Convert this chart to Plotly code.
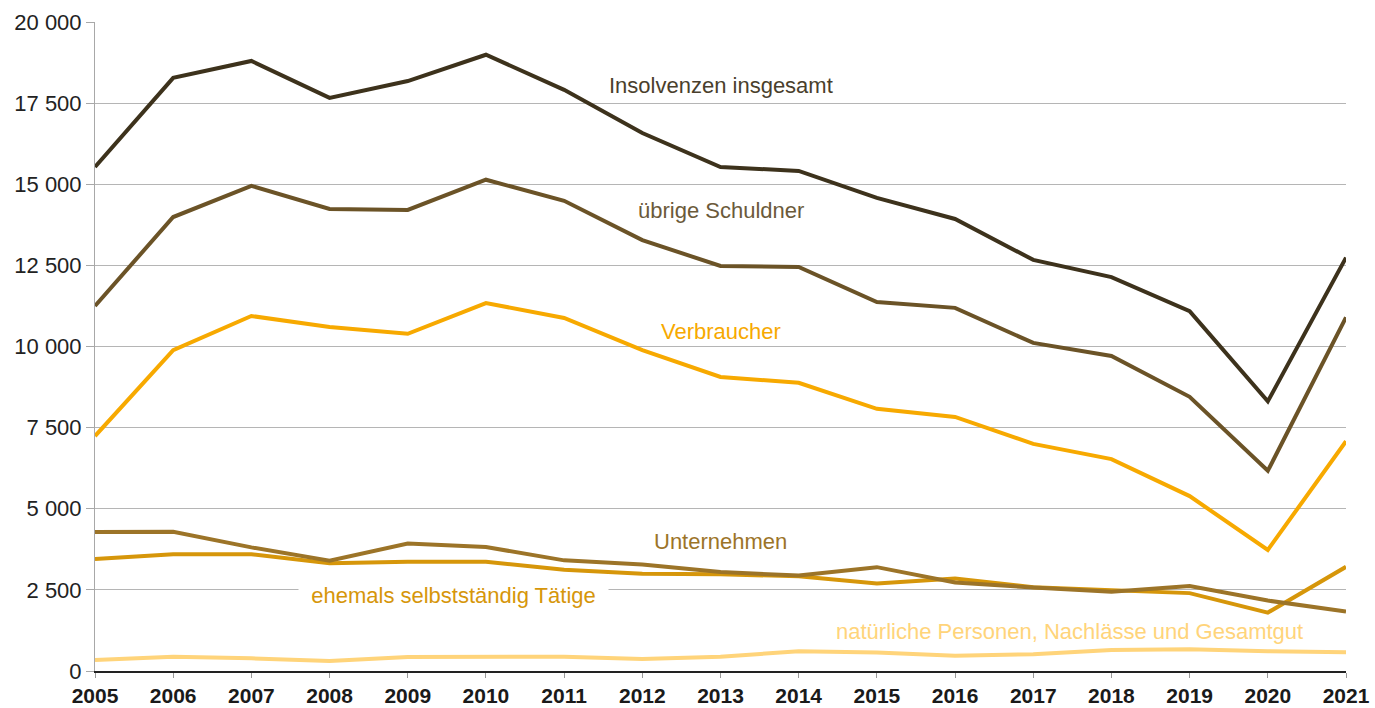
import plotly.graph_objects as go

years = list(range(2005, 2022))

insgesamt = [15530, 18280, 18800, 17660, 18180, 18990, 17910, 16580, 15530, 15410, 14580, 13930, 12670, 12140, 11090, 8310, 12740]
uebrige = [11250, 13990, 14950, 14240, 14210, 15140, 14490, 13280, 12480, 12450, 11370, 11190, 10110, 9710, 8450, 6170, 10900]
verbraucher = [7240, 9890, 10940, 10600, 10390, 11340, 10880, 9890, 9060, 8880, 8080, 7830, 7000, 6530, 5390, 3730, 7080]
unternehmen = [4280, 4290, 3810, 3400, 3930, 3820, 3410, 3280, 3050, 2940, 3200, 2730, 2570, 2440, 2620, 2170, 1830]
ehemals = [3450, 3600, 3600, 3320, 3370, 3370, 3120, 3000, 2980, 2920, 2700, 2850, 2580, 2480, 2400, 1800, 3210]
natuerlich = [340, 440, 390, 310, 430, 420, 440, 370, 440, 610, 570, 470, 520, 650, 670, 610, 580]

series = [
    ("natürliche Personen, Nachlässe und Gesamtgut", natuerlich, "#ffd47a"),
    ("ehemals selbstständig Tätige", ehemals, "#d6960a"),
    ("Unternehmen", unternehmen, "#9c7428"),
    ("Verbraucher", verbraucher, "#f7a900"),
    ("übrige Schuldner", uebrige, "#6b5327"),
    ("Insolvenzen insgesamt", insgesamt, "#3d321c"),
]

labels = [
    ("Insolvenzen insgesamt", 2013.0, 18030, "#4a3f2c", None),
    ("übrige Schuldner", 2013.0, 14180, "#6b5a3a", None),
    ("Verbraucher", 2013.0, 10450, "#f7a900", None),
    ("Unternehmen", 2013.0, 3980, "#9c7428", None),
    ("\u00a0\u00a0ehemals selbstständig Tätige\u00a0\u00a0", 2009.59, 2340, "#d6960a", "white"),
    ("natürliche Personen, Nachlässe und Gesamtgut", 2017.46, 1230, "#ffd47a", None),
]

fig = go.Figure()
for name, vals, col in series:
    fig.add_trace(go.Scatter(x=years, y=vals, mode="lines", name=name,
                             line=dict(color=col, width=4), hoverinfo="skip"))

for txt, x, y, col, bg in labels:
    fig.add_annotation(x=x, y=y, text=txt, showarrow=False,
                       font=dict(family="Liberation Sans", size=22, color=col),
                       bgcolor=bg, borderpad=0, xanchor="center", yanchor="middle")

fig.update_layout(
    width=1375, height=708,
    margin=dict(l=95, r=29, t=22, b=37, autoexpand=False),
    plot_bgcolor="white", paper_bgcolor="white",
    showlegend=False,
    separators=", ",
)
fig.update_xaxes(
    range=[2005, 2021], tickmode="array", tickvals=years,
    ticktext=[str(y) for y in years],
    showgrid=False, zeroline=False, automargin=False,
    ticklabeloverflow="allow",
    showline=True, linecolor="#222222", linewidth=2,
    ticks="outside", ticklen=5, tickcolor="#999999", tickwidth=1,
    tickfont=dict(family="Liberation Sans", size=21, color="#1a1a1a", weight="bold"),
)
fig.update_yaxes(
    range=[0, 20000], dtick=2500, tickformat=",d",
    showgrid=True, gridcolor="#b5b5b5", gridwidth=1,
    zeroline=False, automargin=False,
    ticklabeloverflow="allow",
    showline=True, linecolor="#a8a8a8", linewidth=1,
    ticks="outside", ticklen=8, tickcolor="#a8a8a8", tickwidth=1,
    tickfont=dict(family="Liberation Sans", size=22, color="#222222"),
)

fig.write_html(
    "out.html",
    config={"displayModeBar": False},
    post_script="document.body.style.margin='0';document.body.style.overflow='hidden';",
)
